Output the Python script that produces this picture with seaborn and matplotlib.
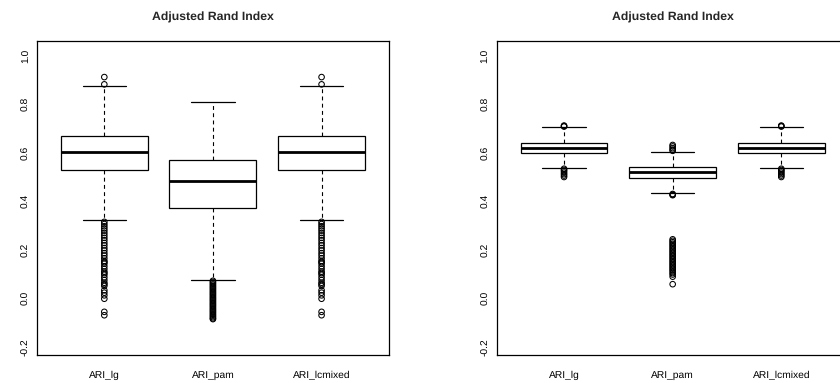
import matplotlib
matplotlib.use("Agg")
import matplotlib.pyplot as plt
import seaborn as sns
import pandas as pd

sns.set_style("white")
plt.rcParams["font.family"] = ["Liberation Sans", "DejaVu Sans"]
plt.rcParams["text.hinting"] = "no_hinting"

categories = ["ARI_lg", "ARI_pam", "ARI_lcmixed"]
yticks = [-0.2, 0.0, 0.2, 0.4, 0.6, 0.8, 1.0]
title = "Adjusted Rand Index"

# ---- left panel: five-number summaries and outliers ----
left_q1 = [0.530, 0.372, 0.530]
left_med = [0.602, 0.485, 0.602]
left_q3 = [0.668, 0.570, 0.668]
left_whislo = [0.322, 0.074, 0.322]
left_whishi = [0.875, 0.808, 0.875]

left_out_lg = [0.912, 0.882,
               0.315, 0.306, 0.297, 0.288, 0.279, 0.269, 0.259, 0.249,
               0.239, 0.228, 0.218, 0.207, 0.197, 0.186, 0.176, 0.165,
               0.154, 0.149, 0.143, 0.132, 0.121, 0.110, 0.104, 0.097,
               0.086, 0.075, 0.064, 0.058, 0.051,
               0.033, 0.023, 0.012, -0.002, -0.056, -0.070]
left_out_pam = [0.072, 0.067, 0.062, 0.057, 0.052, 0.047, 0.042, 0.037,
                0.032, 0.027, 0.022, 0.017, 0.012, 0.007, 0.002, -0.003,
                -0.008, -0.013, -0.018, -0.023, -0.028, -0.033, -0.038,
                -0.043, -0.048, -0.053, -0.058, -0.063, -0.068, -0.073,
                -0.078, -0.083, -0.086]
left_out_lcmixed = [0.912, 0.882,
                    0.315, 0.306, 0.297, 0.288, 0.279, 0.269, 0.259, 0.249,
                    0.239, 0.228, 0.218, 0.207, 0.197, 0.186, 0.176, 0.165,
                    0.154, 0.149, 0.143, 0.132, 0.121, 0.110, 0.104, 0.097,
                    0.086, 0.075, 0.064, 0.058, 0.051,
                    0.033, 0.023, 0.012, -0.002, -0.056, -0.070]

# ---- right panel: five-number summaries and outliers ----
right_q1 = [0.599, 0.497, 0.599]
right_med = [0.621, 0.519, 0.621]
right_q3 = [0.641, 0.541, 0.641]
right_whislo = [0.536, 0.434, 0.536]
right_whishi = [0.706, 0.603, 0.706]

right_out_lg = [0.712, 0.710, 0.708,
                0.534, 0.529, 0.524, 0.518, 0.512, 0.506, 0.500]
right_out_pam = [0.632, 0.626, 0.619, 0.613, 0.608,
                 0.430, 0.427, 0.425,
                 0.243, 0.237, 0.231, 0.225, 0.219, 0.213, 0.207, 0.201,
                 0.195, 0.189, 0.183, 0.177, 0.171, 0.165, 0.159, 0.153,
                 0.147, 0.141, 0.135, 0.129, 0.123, 0.117, 0.111, 0.104,
                 0.098, 0.089, 0.058]
right_out_lcmixed = [0.712, 0.710, 0.708,
                     0.534, 0.529, 0.524, 0.518, 0.512, 0.506, 0.500]


def summaries(q1, med, q3, lo, hi):
    return [dict(label=c, q1=a, med=m, q3=b, whislo=w0, whishi=w1, fliers=[])
            for c, a, m, b, w0, w1 in zip(categories, q1, med, q3, lo, hi)]


def outlier_frame(*groups):
    rows = []
    for cat, vals in zip(categories, groups):
        for v in vals:
            rows.append({"group": cat, "ARI": v,
                         "pos": categories.index(cat) + 1})
    return pd.DataFrame(rows)


def draw_panel(ax, stats, outliers):
    ax.bxp(stats, positions=[1, 2, 3], widths=0.8, showfliers=False,
           patch_artist=True,
           boxprops=dict(facecolor="white", edgecolor="black", linewidth=0.9),
           medianprops=dict(color="black", linewidth=2.0),
           whiskerprops=dict(color="black", linewidth=0.8,
                             linestyle=(0, (3.5, 3.0))),
           capprops=dict(color="black", linewidth=0.9),
           capwidths=0.4)
    sns.scatterplot(data=outliers, x="pos", y="ARI", ax=ax, marker="o",
                    s=16, facecolor="none", edgecolor="black",
                    linewidth=0.75, legend=False, zorder=5)
    ax.set_xlim(0.38, 3.62)
    ax.set_ylim(-0.234, 1.061)
    ax.set_xticks([1, 2, 3])
    ax.set_xticklabels(categories, fontsize=7.4, va="baseline")
    ax.set_yticks(yticks)
    ax.set_yticklabels([f"{t:.1f}" for t in yticks], fontsize=7.4,
                       rotation=90, va="center")
    ax.set_xlabel("")
    ax.set_ylabel("")
    ax.tick_params(axis="both", direction="out", length=5, width=0.8,
                   color="black", labelcolor="black")
    ax.tick_params(axis="y", pad=-0.5)
    ax.tick_params(axis="x", pad=11.5)
    for sp in ax.spines.values():
        sp.set_visible(True)
        sp.set_color("black")
        sp.set_linewidth(0.9)
    ax.set_title(title, fontsize=8.8, fontweight="bold", pad=15)


fig = plt.figure(figsize=(8.4, 3.83), dpi=100)
ax_left = fig.add_axes([0.044, 0.0731, 0.419, 0.820])
ax_right = fig.add_axes([0.5913, 0.0731, 0.419, 0.820])

draw_panel(ax_left,
           summaries(left_q1, left_med, left_q3, left_whislo, left_whishi),
           outlier_frame(left_out_lg, left_out_pam, left_out_lcmixed))
draw_panel(ax_right,
           summaries(right_q1, right_med, right_q3, right_whislo, right_whishi),
           outlier_frame(right_out_lg, right_out_pam, right_out_lcmixed))

fig.savefig("out.png", dpi=100)
